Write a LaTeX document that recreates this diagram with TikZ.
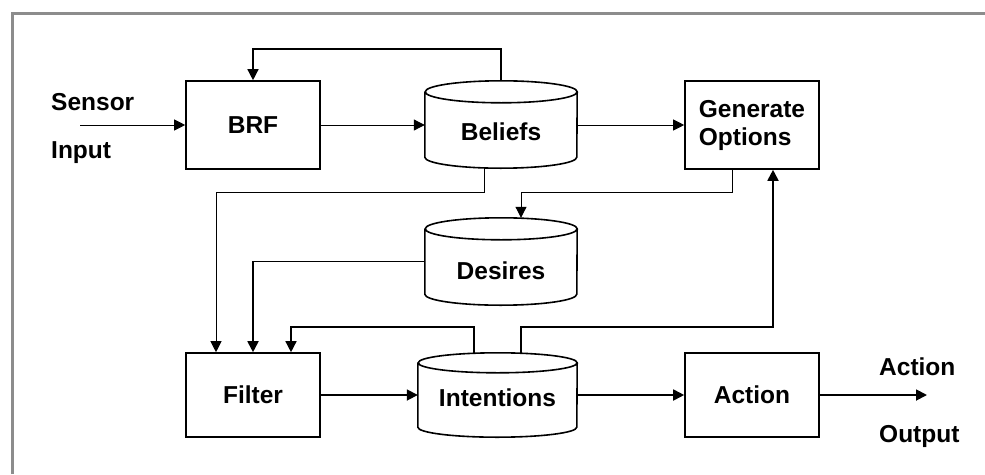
\documentclass[tikz,border=0pt]{standalone}
\usepackage{fontspec}
\setmainfont{Liberation Sans}
\usetikzlibrary{arrows.meta}
\definecolor{framegray}{HTML}{8C8C8C}
\newcommand\dfont{\fontsize{24.5}{28}\selectfont\bfseries}
\newcommand\lowered[2]{\raisebox{-#1}[\height][\depth]{#2}}
\begin{document}
\begin{tikzpicture}[x=1pt,y=1pt,
  box/.style={draw, line width=1.6pt, minimum width=134pt, minimum height=88pt, inner sep=0pt, align=center, font=\dfont},
  cyl/.style={inner sep=0pt, font=\dfont},
  lbl/.style={inner sep=0pt, anchor=base west, font=\dfont},
  outline/.style={line width=1.6pt, line join=miter},
  tip/.style={-{Triangle[length=11pt,width=11pt]}},
  thinline/.style={line width=1pt, tip},
  medline/.style={line width=1.4pt, tip},
  thickline/.style={line width=1.8pt, tip}
]
\useasboundingbox (0,0) rectangle (985,-474);
% frame
\draw[framegray, line width=3pt] (12,-474) -- (12,-13) -- (985,-13);

% boxes
\node[box] (brf) at (253,-125) {BRF};
\node[box, align=left] (go) at (752,-125) {Generate\\Options};
\node[box, minimum height=84pt] (filt) at (253,-395) {Filter};
\node[box, minimum height=84pt] (act) at (752,-395) {Action};

% cylinders
\node[cyl, minimum width=152pt, minimum height=87pt] (bel) at (501,-124.5) {\lowered{7pt}{Beliefs}};
\node[cyl, minimum width=152pt, minimum height=87pt] (des) at (501,-261.5) {\lowered{9pt}{Desires}};
\node[cyl, minimum width=159pt, minimum height=84pt] (int) at (497.5,-395) {\lowered{3pt}{Intentions}};
\foreach \n/\r/\e in {bel/76/11, des/76/11, int/79.5/10} {
  \draw[outline] ([yshift=-\e]\n.north west) -- ([yshift=\e]\n.south west)
    arc[start angle=180, end angle=360, x radius=\r, y radius=\e]
    -- ([yshift=-\e]\n.north east)
    arc[start angle=0, end angle=360, x radius=\r, y radius=\e];
}

% labels
\node[lbl] (sen) at (51,-110) {Sensor};
\node[lbl] (inp) at (51,-158) {Input};
\node[lbl] (aol) at (879,-375) {Action};
\node[lbl] (oul) at (879,-442) {Output};
\coordinate (sin) at (80,-125);
\coordinate (aout) at (927,-395);

% connectors
\draw[thinline] (sin) -- (brf.west);
\draw[thinline] (brf.east) -- (brf.east -| bel.west);
\draw[thinline] (bel.east |- go.west) -- (go.west);
\draw[medline] (bel.north) -- (bel.north |- 0,-49) -| (brf.north);
\draw[thinline] ([xshift=-17pt]bel.south) -- ++(0,-24) -| ([xshift=-37pt]filt.north);
\draw[thinline] ([xshift=-20pt]go.south) -- ++(0,-23) -| ([xshift=20pt]des.north);
\draw[thickline] (des.west) -| (filt.north);
\draw[medline] ([xshift=-23.5pt]int.north) -- ++(0,26) -| ([xshift=38pt]filt.north);
\draw[thickline] ([xshift=23.5pt]int.north) -- ++(0,26) -| ([xshift=21pt]go.south);
\draw[thickline] (filt.east) -- (int.west);
\draw[thickline] (int.east) -- (act.west);
\draw[thickline] (act.east) -- (aout);
\end{tikzpicture}
\end{document}
